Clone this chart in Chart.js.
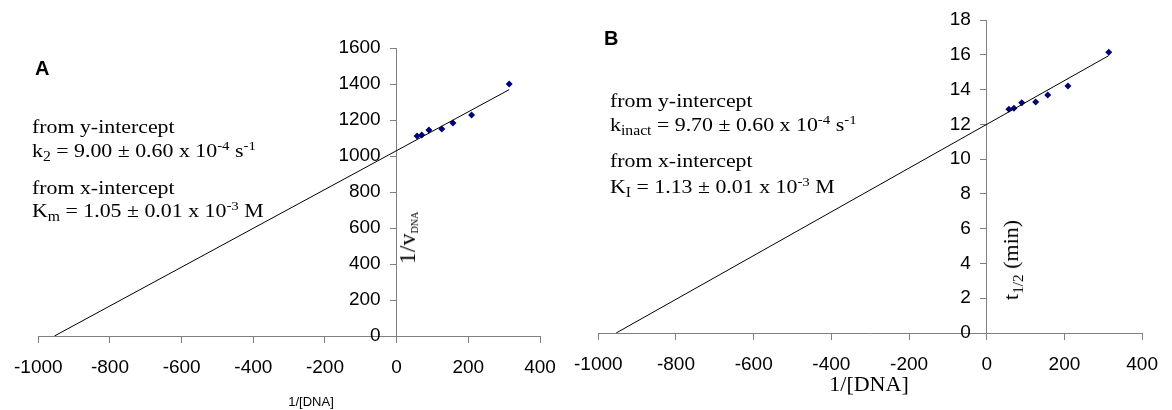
<!DOCTYPE html>
<html lang="en">
  <head>
    <title>Inactivation kinetics</title>
    <meta charset="UTF-8" />
    <script src="https://cdn.jsdelivr.net/npm/chart.js@4"></script>
    <style>
      body { margin: 0; width: 1172px; height: 410px; position: relative; background: #fff; overflow: hidden; }
      canvas { position: absolute; top: 0; }
      .txt { position: absolute; font-family: "Liberation Serif", serif; font-size: 19px; line-height: 1; white-space: nowrap; transform-origin: 0 0; transform: scaleX(1.15); }
      .txt sup { font-size: 0.68em; vertical-align: 0.55em; line-height: 0; }
      .txt sub { font-size: 0.72em; vertical-align: -0.3em; line-height: 0; }
      .panel { position: absolute; font-family: "Liberation Sans", sans-serif; font-weight: bold; font-size: 20px; line-height: 1; }
      .ytitle { position: absolute; font-family: "Liberation Serif", serif; font-size: 22px; line-height: 1; white-space: nowrap; transform: translate(-50%, -50%) rotate(-90deg); }
      .ytitle sub { font-size: 0.7em; vertical-align: -0.3em; line-height: 0; }
    </style>
  </head>
  <body>
    <canvas id="grafA" width="586" height="410" style="left:0"></canvas>
    <canvas id="grafB" width="612" height="410" style="left:560px"></canvas>

    <div class="panel" style="left:35px; top:58px">A</div>
    <div class="txt" style="left:32px; top:117px">from y-intercept</div>
    <div class="txt" style="left:32px; top:141px">k<sub>2</sub> = 9.00 ± 0.60 x 10<sup>-4</sup> s<sup>-1</sup></div>
    <div class="txt" style="left:32px; top:178px">from x-intercept</div>
    <div class="txt" style="left:32px; top:201px">K<sub>m</sub> = 1.05 ± 0.01 x 10<sup>-3</sup> M</div>
    <div class="ytitle" style="left:407px; top:238px; font-size:24px">1/v<sub style="font-size:0.42em">DNA</sub></div>
    <div style="position:absolute; left:311px; top:401px; transform:translate(-50%,-50%); font:13px 'Liberation Sans', sans-serif">1/[DNA]</div>

    <div class="panel" style="left:604px; top:28px">B</div>
    <div class="txt" style="left:610px; top:91px">from y-intercept</div>
    <div class="txt" style="left:610px; top:115px">k<sub>inact</sub> = 9.70 ± 0.60 x 10<sup>-4</sup> s<sup>-1</sup></div>
    <div class="txt" style="left:610px; top:151px">from x-intercept</div>
    <div class="txt" style="left:610px; top:177px">K<sub>I</sub> = 1.13 ± 0.01 x 10<sup>-3</sup> M</div>
    <div class="ytitle" style="left:1011px; top:260px">t<sub>1/2</sub> (min)</div>
    <div style="position:absolute; left:869px; top:384px; transform:translate(-50%,-50%); font:22px 'Liberation Serif', serif">1/[DNA]</div>

    <script>
      // 1/[DNA] for each measurement, shared by both plots
      const dnaInv = [57, 70, 90, 126, 157, 209, 314];
      // A: 1/v (DNA)
      const rateInv = [1111, 1117, 1144, 1150, 1183, 1228, 1400];
      // B: half-life in minutes
      const halfLife = [12.87, 12.93, 13.24, 13.28, 13.68, 14.21, 16.15];

      // fitted lines: x-intercept, y-intercept, last x
      const fitA = [-955, 1030, 314];
      const fitB = [-954, 12.0, 314];

      const xTicks = [-1000, 400, 200];
      const yTicksA = [0, 1600, 200];
      const yTicksB = [0, 18, 2];

      const fonte = { family: 'Liberation Sans', size: 19 };

      function fitLine(f) {
        var slope = f[1] / -f[0];
        return [{ x: f[0], y: 0 }, { x: f[2], y: f[1] + slope * f[2] }];
      }

      // y labels sit left of the axis that crosses at x = 0
      const rotulosY = {
        id: 'rotulosY',
        afterDraw(chart) {
          var ctx = chart.ctx;
          var sx = chart.scales.x, sy = chart.scales.y;
          var x0 = sx.getPixelForValue(0) - 16;
          ctx.save();
          ctx.fillStyle = '#000';
          ctx.font = fonte.size + 'px "' + fonte.family + '"';
          ctx.textAlign = 'right';
          ctx.textBaseline = 'middle';
          sy.ticks.forEach(function (t) {
            ctx.fillText(String(t.value), x0, sy.getPixelForValue(t.value));
          });
          ctx.restore();
        },
      };

      function grafico(id, ys, fit, yTicks, padding) {
        var pontos = dnaInv.map(function (x, i) { return { x: x, y: ys[i] }; });
        var eixo = {
          grid: { drawOnChartArea: false, tickLength: 6, color: '#808080', lineWidth: 1 },
          border: { color: '#808080', width: 1 },
        };
        return new Chart(document.getElementById(id), {
          type: 'scatter',
          data: {
            datasets: [
              {
                type: 'line',
                data: fitLine(fit),
                borderColor: '#000',
                borderWidth: 1,
                pointRadius: 0,
                fill: false,
              },
              {
                data: pontos,
                pointStyle: 'rectRot',
                pointRadius: 3.5,
                backgroundColor: '#00007a',
                borderWidth: 0,
              },
            ],
          },
          options: {
            responsive: false,
            animation: false,
            devicePixelRatio: 1,
            layout: { padding: padding },
            plugins: { legend: { display: false }, tooltip: { enabled: false } },
            scales: {
              x: Object.assign({
                type: 'linear',
                min: xTicks[0],
                max: xTicks[1],
                position: { y: 0 },
                ticks: {
                  stepSize: xTicks[2], color: '#000', padding: 14, font: fonte,
                  callback: function (v) { return String(v); },
                },
              }, eixo),
              y: Object.assign({
                type: 'linear',
                min: yTicks[0],
                max: yTicks[1],
                position: { x: 0 },
                ticks: { stepSize: yTicks[2], display: false },
              }, eixo),
            },
          },
          plugins: [rotulosY],
        });
      }

      grafico('grafA', rateInv, fitA, yTicksA, { left: 34, right: 46, top: 48, bottom: 74 });
      grafico('grafB', halfLife, fitB, yTicksB, { left: 37, right: 19, top: 20, bottom: 77 });
    </script>
  </body>
</html>
